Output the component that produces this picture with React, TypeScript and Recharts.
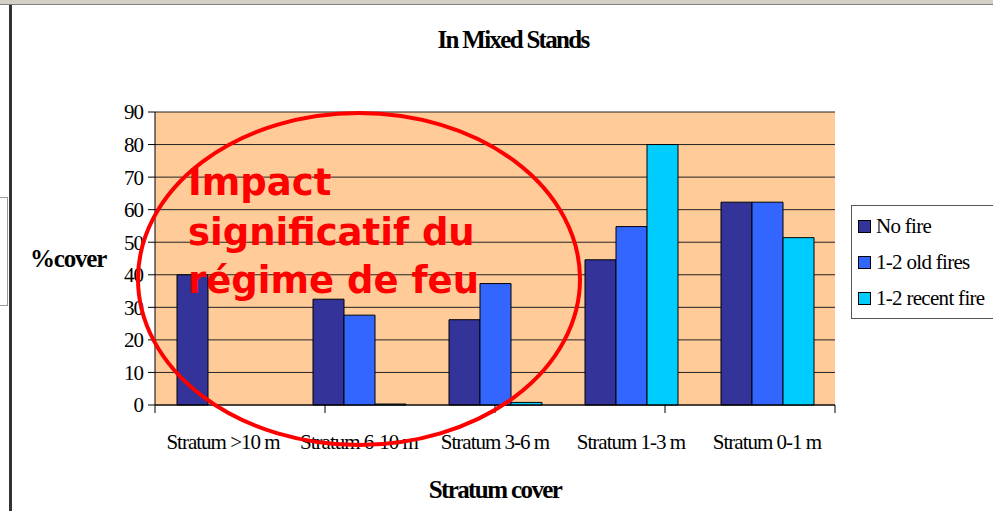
import React from "react";
import {
  BarChart,
  Bar,
  XAxis,
  YAxis,
  CartesianGrid,
} from "recharts";

const categories = ["Stratum >10 m", "Stratum 6-10 m", "Stratum 3-6 m", "Stratum 1-3 m", "Stratum 0-1 m"];
const noFire = [40, 32.5, 26.2, 44.6, 62.3];
const oldFires = [0, 27.6, 37.3, 54.8, 62.3];
const recentFires = [0, 0.3, 0.8, 80, 51.4];
const yTicks = [0, 10, 20, 30, 40, 50, 60, 70, 80, 90];
const boundaryTicks = [0, 1, 2, 3, 4, 5];

const series = [
  { key: "noFire", name: "No fire", color: "#333399" },
  { key: "oldFires", name: "1-2 old fires", color: "#3366FF" },
  { key: "recentFires", name: "1-2 recent fire", color: "#00CCFF" },
];

const data = categories.map((c, i) => ({
  name: c,
  noFire: noFire[i],
  oldFires: oldFires[i],
  recentFires: recentFires[i],
}));

const serif = "'Liberation Serif', 'Times New Roman', serif";

const LegendBox = () => (
  <div
    style={{
      position: "absolute",
      left: 851,
      top: 205,
      border: "1px solid #555",
      background: "#fff",
      padding: "2px 0 2px 6px",
      width: 160,
      fontFamily: serif,
      fontSize: 21,
      letterSpacing: -0.7,
      color: "#000",
    }}
  >
    {series.map((s) => (
      <div key={s.key} style={{ display: "flex", alignItems: "center", height: 36, whiteSpace: "nowrap" }}>
        <span
          style={{
            display: "inline-block",
            width: 11,
            height: 11,
            background: s.color,
            border: "1px solid #000",
            marginRight: 5,
          }}
        />
        {s.name}
      </div>
    ))}
  </div>
);

export default function App() {
  return (
    <div style={{ position: "absolute", left: 0, top: 0, width: 993, height: 511, background: "#fff", overflow: "hidden" }}>
      {/* window chrome */}
      <div style={{ position: "absolute", left: 0, top: 0, width: 993, height: 4, background: "#d4d0c8", borderBottom: "1px solid #808080" }} />
      <div style={{ position: "absolute", left: 9, top: 5, width: 3, height: 506, background: "#333" }} />
      <div style={{ position: "absolute", left: -1, top: 197, width: 7, height: 107, border: "1px solid #999" }} />

      <div
        style={{
          position: "absolute",
          top: 26,
          left: 0,
          width: 1026,
          textAlign: "center",
          fontFamily: serif,
          fontWeight: "bold",
          fontSize: 25,
          letterSpacing: -1.7,
        }}
      >
        In Mixed Stands
      </div>

      <BarChart
        width={993}
        height={511}
        data={data}
        margin={{ top: 112, right: 158, left: 0, bottom: 0 }}
        barGap={0}
        barCategoryGap={22}
        style={{ position: "absolute", left: 0, top: 0 }}
      >
        <CartesianGrid xAxisId={1} vertical={false} stroke="#222" fill="#FFCC99" fillOpacity={1} />
        <XAxis
          xAxisId={0}
          type="number"
          domain={[0, 5]}
          ticks={boundaryTicks}
          tickFormatter={() => ""}
          tickLine={{ stroke: "#000" }}
          tickSize={8}
          stroke="#000"
          height={8}
        />
        <XAxis
          dataKey="name"
          xAxisId={1}
          height={98}
          tickLine={false}
          axisLine={false}
          interval={0}
          tick={{ fontSize: 21, fontFamily: serif, fill: "#000", letterSpacing: -1 }}
          tickMargin={15}
          label={{
            value: "Stratum cover",
            position: "insideBottom",
            offset: 13,
            style: { fontSize: 25, fontFamily: serif, fontWeight: "bold", fill: "#000", letterSpacing: -1.6 },
          }}
        />
        <YAxis
          width={155}
          domain={[0, 90]}
          ticks={yTicks}
          interval={0}
          stroke="#000"
          tickSize={7}
          tickMargin={5}
          tick={{ fontSize: 21, fontFamily: serif, fill: "#000", letterSpacing: -1 }}
          label={{
            value: "%cover",
            position: "insideLeft",
            offset: 30,
            style: { fontSize: 25, fontFamily: serif, fontWeight: "bold", fill: "#000", letterSpacing: -1.2, textAnchor: "start" },
          }}
        />
        {series.map((s) => (
          <Bar
            key={s.key}
            xAxisId={1}
            dataKey={s.key}
            name={s.name}
            fill={s.color}
            stroke="#000"
            strokeWidth={1}
            isAnimationActive={false}
          />
        ))}
      </BarChart>

      <LegendBox />

      {/* hand-drawn annotation */}
      <svg width={993} height={511} style={{ position: "absolute", left: 0, top: 0, pointerEvents: "none" }}>
        <ellipse cx={359} cy={279} rx={221} ry={166} fill="none" stroke="#ff0000" strokeWidth={4} />
        <g fill="#ff0000" fontFamily="'DejaVu Sans', sans-serif" fontWeight="bold" fontSize={37}>
          <text x={188} y={195}>Impact</text>
          <text x={188} y={245}>significatif du</text>
          <text x={188} y={293}>régime de feu</text>
        </g>
      </svg>
    </div>
  );
}
